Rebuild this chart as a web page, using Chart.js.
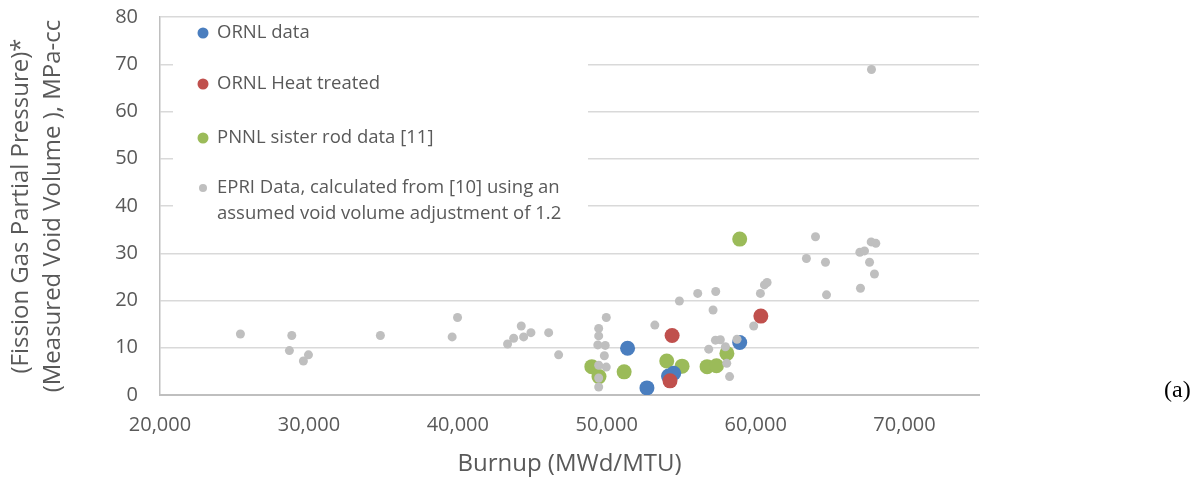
<!DOCTYPE html>
<html>
<head>
<meta charset="utf-8">
<script src="https://cdn.jsdelivr.net/npm/chart.js@4/dist/chart.umd.min.js"></script>
<style>
  html, body { margin: 0; padding: 0; background: #ffffff; }
  #wrap { position: relative; width: 1204px; height: 483px; }
  #tag { position: absolute; left: 1164px; top: 375px; font: 24px "Liberation Serif", serif; line-height: 28px; color: #000; }
</style>
</head>
<body>
<div id="wrap">
  <canvas id="chart" width="1204" height="483"></canvas>
  <div id="tag">(a)</div>
</div>
<script>
// ----------------------------------------------------
// Data (burnup in MWd/MTU, value in MPa-cc)
// ----------------------------------------------------
const ornlX = [51400, 52700, 54150, 54500, 58930];
const ornlY = [9.9, 1.5, 4.0, 4.6, 11.1];

const heatX = [54390, 54250, 60350];
const heatY = [12.6, 3.0, 16.7];

const pnnlX = [49000, 49480, 51170, 54030, 55060, 56740, 57370, 58070, 58930];
const pnnlY = [6.0, 3.9, 4.9, 7.2, 6.1, 6.0, 6.2, 8.8, 33.0];

const epriX = [25400, 28850, 28690, 29970, 29630, 34800, 39620, 39980,
               43340, 43750, 44260, 44420, 44910, 46100, 46770,
               49970, 49460, 49460, 49400, 49900, 49840, 49460, 49970, 49460, 49460,
               53230, 54880, 56110, 57320, 57140, 57300, 57630, 56850, 57970, 58060, 58250, 58750,
               59870, 60320, 60590, 60770, 63410, 64020, 64690, 64760,
               67040, 67000, 67310, 67760, 68070, 67650, 67980, 67780];
const epriY = [12.9, 12.6, 9.4, 8.5, 7.2, 12.6, 12.3, 16.4,
               10.8, 12.0, 14.6, 12.3, 13.2, 13.2, 8.5,
               16.4, 14.1, 12.5, 10.6, 10.5, 8.3, 6.3, 5.9, 3.6, 1.7,
               14.8, 19.9, 21.5, 21.9, 18.0, 11.6, 11.7, 9.7, 10.2, 6.7, 3.9, 11.8,
               14.6, 21.5, 23.3, 23.8, 28.9, 33.5, 28.1, 21.2,
               22.6, 30.2, 30.5, 32.4, 32.1, 28.1, 25.6, 68.9];

const xTicks = [20000, 30000, 40000, 50000, 60000, 70000];
const yTicks = [0, 10, 20, 30, 40, 50, 60, 70, 80];

const seriesNames = [
    "ORNL data",
    "ORNL Heat treated",
    "PNNL sister rod data [11]",
    ["EPRI Data, calculated from [10] using an", "assumed void volume adjustment of 1.2"]
];

const xTitle = "Burnup (MWd/MTU)";
const yTitle = ["(Fission Gas Partial Pressure)*", "(Measured Void Volume ), MPa-cc"];

const toPoints = (xs, ys) => xs.map((x, i) => ({ x: x, y: ys[i] }));

const labelColor = "#595959";
const fontFamily = '"Open Sans", sans-serif';

// ----------------------------------------------------
// Legend drawn inside the plot on a white box
// ----------------------------------------------------
const legendBox = {
    id: "legendBox",
    beforeDatasetsDraw(chart) {
        const ctx = chart.ctx;
        const area = chart.chartArea;
        const left = area.left + 13;
        const rowY = [33, 84, 138, 188];
        ctx.save();
        ctx.fillStyle = "#ffffff";
        ctx.fillRect(left, area.top + 2, 415, 208);
        ctx.font = "18.5px " + fontFamily;
        ctx.textBaseline = "middle";
        ctx.textAlign = "left";
        chart.data.datasets.forEach((ds, i) => {
            const r = i === 3 ? 4 : 5.5;
            ctx.fillStyle = ds.backgroundColor;
            ctx.beginPath();
            ctx.arc(left + 30, rowY[i], r, 0, Math.PI * 2);
            ctx.fill();
            ctx.fillStyle = labelColor;
            const lines = Array.isArray(ds.label) ? ds.label : [ds.label];
            lines.forEach((line, j) => {
                ctx.fillText(line, left + 44, rowY[i] + j * 26);
            });
        });
        ctx.restore();
    }
};

const makeSet = (name, pts, color, radius, order) => ({
    label: name,
    data: pts,
    backgroundColor: color,
    borderColor: color,
    borderWidth: 0,
    pointRadius: radius,
    pointHoverRadius: radius,
    order: order
});

// keep the plot box where the figure has it
const noPad = s => { s.paddingTop = 0; s.paddingBottom = 0; s.paddingLeft = 0; s.paddingRight = 0; };

new Chart(document.getElementById("chart"), {
    type: "scatter",
    data: {
        datasets: [
            makeSet(seriesNames[0], toPoints(ornlX, ornlY), "#4a7ebf", 7.5, 2),
            makeSet(seriesNames[1], toPoints(heatX, heatY), "#c0504d", 7.5, 1),
            makeSet(seriesNames[2], toPoints(pnnlX, pnnlY), "#9bbb59", 7.5, 3),
            makeSet(seriesNames[3], toPoints(epriX, epriY), "#bfbfbf", 4.5, 0)
        ]
    },
    options: {
        responsive: false,
        animation: false,
        layout: {
            autoPadding: false,
            padding: { top: 17, right: 225, bottom: 0, left: 0 }
        },
        plugins: {
            legend: { display: false },
            tooltip: { enabled: false }
        },
        scales: {
            x: {
                type: "linear",
                min: 20000,
                max: 75000,
                afterBuildTicks: s => { s.ticks = xTicks.map(v => ({ value: v })); },
                afterFit: s => { s.height = 88; noPad(s); },
                ticks: {
                    padding: 18,
                    maxRotation: 0,
                    autoSkip: false,
                    color: labelColor,
                    font: { family: fontFamily, size: 20 },
                    callback: v => v.toLocaleString("en-US")
                },
                grid: { display: false, drawTicks: false },
                border: { display: true, color: "#bfbfbf", width: 2 },
                title: {
                    display: true,
                    text: xTitle,
                    color: labelColor,
                    font: { family: fontFamily, size: 24, lineHeight: 1.2 },
                    padding: { top: 0, bottom: 4 }
                }
            },
            y: {
                min: 0,
                max: 80,
                afterBuildTicks: s => { s.ticks = yTicks.map(v => ({ value: v })); },
                afterFit: s => { s.width = 160; noPad(s); },
                ticks: {
                    padding: 22,
                    autoSkip: false,
                    color: labelColor,
                    font: { family: fontFamily, size: 20 }
                },
                grid: { color: "#d9d9d9", lineWidth: 1.5, drawTicks: false },
                border: { display: true, color: "#bfbfbf", width: 1.5 },
                title: {
                    display: true,
                    text: yTitle,
                    color: labelColor,
                    font: { family: fontFamily, size: 24, lineHeight: 1.333 },
                    padding: { top: 5, bottom: 0 }
                }
            }
        }
    },
    plugins: [legendBox]
});
</script>
</body>
</html>
